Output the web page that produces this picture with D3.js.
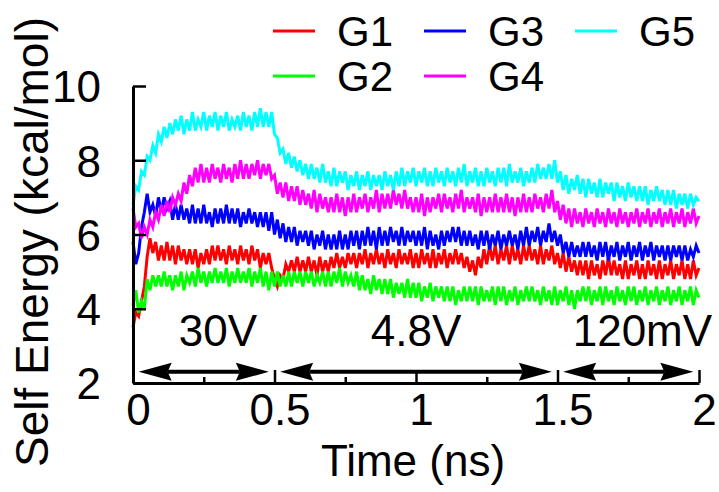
<!DOCTYPE html>
<html>
  <head>
    <title>Self Energy</title>
    <script src="https://cdnjs.cloudflare.com/ajax/libs/d3/7.8.5/d3.min.js"></script>
    <style>
      body { margin: 0; background: #fff; }
      text { font-family: "Liberation Sans", Arial, Helvetica, sans-serif; fill: #000; }
    </style>
  </head>
  <body>
    <script>
      // sampling step of the traces (ns)
      var dt = 0.01;

      var names = ["G1", "G2", "G3", "G4", "G5"];
      var colors = ["#ff0000", "#00ff00", "#0000ff", "#ff00ff", "#00ffff"];

      var g1 = [
        3.5, 3.9, 3.8, 4.2, 4.6, 5.4, 5.9, 5.5, 5.8, 5.3,
        5.7, 5.3, 5.8, 5.3, 5.7, 5.2, 5.7, 5.3, 5.6, 5.2,
        5.6, 5.2, 5.6, 5.1, 5.5, 5.2, 5.6, 5.2, 5.7, 5.3,
        5.7, 5.3, 5.6, 5.2, 5.7, 5.3, 5.6, 5.2, 5.7, 5.3,
        5.6, 5.2, 5.7, 5.3, 5.6, 5.1, 5.5, 5.2, 5.5, 5.1,
        4.8, 4.6, 4.9, 4.8, 5.2, 5.0, 5.3, 5.0, 5.4, 5.0,
        5.3, 5.0, 5.4, 5.0, 5.3, 4.9, 5.4, 5.0, 5.3, 5.0,
        5.4, 5.1, 5.5, 5.1, 5.4, 5.1, 5.5, 5.2, 5.5, 5.1,
        5.5, 5.2, 5.6, 5.1, 5.5, 5.2, 5.6, 5.2, 5.5, 5.1,
        5.6, 5.2, 5.5, 5.1, 5.6, 5.2, 5.5, 5.2, 5.6, 5.1,
        5.5, 5.1, 5.6, 5.2, 5.5, 5.1, 5.6, 5.1, 5.5, 5.2,
        5.6, 5.1, 5.5, 5.2, 5.6, 5.2, 5.5, 5.1, 5.4, 5.0,
        5.3, 4.9, 5.4, 5.1, 5.6, 5.2, 5.7, 5.3, 5.7, 5.2,
        5.6, 5.3, 5.7, 5.2, 5.7, 5.3, 5.6, 5.2, 5.7, 5.3,
        5.7, 5.3, 5.6, 5.2, 5.7, 5.2, 5.6, 5.3, 5.7, 5.2,
        5.5, 5.1, 5.5, 5.0, 5.4, 5.0, 5.3, 4.9, 5.3, 4.9,
        5.3, 4.8, 5.3, 4.9, 5.2, 4.8, 5.3, 4.9, 5.4, 4.9,
        5.3, 4.9, 5.2, 4.8, 5.3, 4.8, 5.2, 4.9, 5.3, 4.8,
        5.2, 4.8, 5.3, 4.9, 5.2, 4.8, 5.3, 4.8, 5.2, 4.9,
        5.3, 4.8, 5.2, 4.9, 5.3, 4.8, 5.2, 4.8, 5.3, 4.9,
        5.1
      ];

      var g2 = [
        4.1, 4.5, 3.9, 4.2, 4.0, 4.8, 4.5, 4.9, 4.6, 4.9,
        4.6, 5.0, 4.6, 4.9, 4.5, 4.9, 4.6, 5.0, 4.5, 4.9,
        4.7, 5.0, 4.6, 5.1, 4.7, 5.0, 4.6, 5.0, 4.7, 5.1,
        4.7, 5.0, 4.7, 5.1, 4.6, 5.0, 4.7, 5.1, 4.7, 5.0,
        4.7, 5.1, 4.6, 5.0, 4.7, 5.1, 4.6, 5.0, 4.5, 5.0,
        4.6, 5.0, 4.6, 4.9, 4.6, 5.0, 4.6, 5.0, 4.7, 5.0,
        4.6, 5.0, 4.7, 5.0, 4.6, 4.9, 4.7, 5.0, 4.6, 5.0,
        4.6, 5.0, 4.7, 5.1, 4.6, 5.0, 4.7, 4.9, 4.6, 5.0,
        4.5, 4.9, 4.5, 4.8, 4.4, 4.9, 4.5, 4.8, 4.4, 4.8,
        4.4, 4.8, 4.3, 4.7, 4.4, 4.7, 4.3, 4.8, 4.3, 4.7,
        4.3, 4.7, 4.2, 4.6, 4.3, 4.7, 4.2, 4.6, 4.3, 4.6,
        4.2, 4.6, 4.2, 4.6, 4.1, 4.5, 4.2, 4.6, 4.2, 4.6,
        4.2, 4.6, 4.1, 4.6, 4.2, 4.5, 4.2, 4.6, 4.1, 4.6,
        4.2, 4.6, 4.1, 4.5, 4.2, 4.6, 4.1, 4.5, 4.2, 4.6,
        4.2, 4.6, 4.2, 4.5, 4.1, 4.6, 4.2, 4.5, 4.1, 4.6,
        4.1, 4.5, 4.2, 4.6, 4.1, 4.5, 4.0, 4.5, 4.2, 4.6,
        4.2, 4.6, 4.1, 4.5, 4.2, 4.6, 4.1, 4.6, 4.2, 4.5,
        4.1, 4.6, 4.2, 4.5, 4.1, 4.6, 4.2, 4.6, 4.1, 4.5,
        4.2, 4.6, 4.1, 4.5, 4.2, 4.6, 4.1, 4.5, 4.2, 4.6,
        4.1, 4.5, 4.2, 4.6, 4.1, 4.5, 4.2, 4.6, 4.1, 4.5,
        4.3
      ];

      var g3 = [
        5.8, 5.2, 5.5, 6.2, 6.6, 7.1, 6.6, 6.8, 6.5, 7.0,
        6.6, 7.0, 6.7, 6.9, 6.4, 6.8, 6.4, 6.8, 6.4, 6.7,
        6.3, 6.8, 6.3, 6.7, 6.3, 6.8, 6.3, 6.6, 6.2, 6.7,
        6.3, 6.7, 6.3, 6.8, 6.3, 6.7, 6.3, 6.7, 6.2, 6.6,
        6.3, 6.7, 6.3, 6.6, 6.2, 6.6, 6.2, 6.6, 6.1, 6.6,
        6.0, 6.4, 5.9, 6.3, 5.8, 6.2, 5.8, 6.2, 5.7, 6.1,
        5.8, 6.1, 5.7, 6.1, 5.6, 6.0, 5.7, 6.1, 5.6, 6.0,
        5.6, 6.0, 5.6, 6.1, 5.6, 6.0, 5.6, 6.1, 5.7, 6.1,
        5.6, 6.1, 5.7, 6.2, 5.7, 6.1, 5.6, 6.2, 5.7, 6.1,
        5.7, 6.2, 5.8, 6.1, 5.7, 6.2, 5.7, 6.1, 5.8, 6.1,
        5.7, 6.1, 5.7, 6.2, 5.6, 6.1, 5.7, 6.0, 5.6, 6.1,
        5.7, 6.1, 5.8, 6.2, 5.8, 6.2, 5.7, 6.1, 5.7, 6.1,
        5.7, 6.0, 5.6, 6.1, 5.7, 6.1, 5.6, 6.0, 5.7, 6.1,
        5.6, 6.0, 5.7, 6.1, 5.7, 6.0, 5.6, 6.1, 5.7, 6.2,
        5.7, 6.1, 5.8, 6.2, 5.7, 6.1, 5.8, 6.3, 5.8, 6.1,
        5.7, 6.0, 5.5, 5.8, 5.4, 5.8, 5.4, 5.7, 5.4, 5.8,
        5.4, 5.8, 5.4, 5.7, 5.3, 5.8, 5.4, 5.8, 5.3, 5.7,
        5.4, 5.8, 5.3, 5.7, 5.4, 5.8, 5.3, 5.7, 5.4, 5.8,
        5.3, 5.7, 5.4, 5.8, 5.3, 5.7, 5.4, 5.7, 5.3, 5.7,
        5.3, 5.7, 5.4, 5.7, 5.3, 5.7, 5.3, 5.6, 5.4, 5.7,
        5.5
      ];

      var g4 = [
        6.7, 6.2, 6.3, 5.9, 6.2, 6.0, 6.4, 6.2, 6.6, 6.4,
        6.8, 6.5, 6.9, 6.6, 7.0, 6.8, 7.1, 6.9, 7.4, 7.1,
        7.6, 7.3, 7.8, 7.4, 7.9, 7.4, 7.8, 7.4, 7.9, 7.5,
        7.8, 7.4, 7.9, 7.5, 7.8, 7.4, 7.9, 7.5, 8.0, 7.5,
        7.9, 7.5, 7.9, 7.6, 8.0, 7.5, 7.9, 7.6, 7.9, 7.5,
        7.6, 7.1, 7.4, 7.0, 7.4, 6.9, 7.3, 6.9, 7.3, 6.8,
        7.2, 6.8, 7.1, 6.7, 7.2, 6.6, 7.1, 6.7, 7.0, 6.6,
        7.0, 6.6, 7.1, 6.6, 7.0, 6.5, 7.0, 6.6, 7.1, 6.6,
        7.0, 6.7, 7.1, 6.6, 7.0, 6.7, 7.2, 6.6, 7.1, 6.7,
        7.1, 6.7, 7.2, 6.8, 7.1, 6.7, 7.2, 6.7, 7.0, 6.6,
        7.0, 6.6, 7.1, 6.5, 7.0, 6.6, 7.0, 6.7, 7.1, 6.6,
        7.1, 6.7, 7.0, 6.6, 7.1, 6.7, 7.2, 6.6, 7.0, 6.7,
        7.0, 6.6, 7.1, 6.5, 7.0, 6.6, 7.0, 6.6, 7.1, 6.6,
        7.0, 6.6, 7.1, 6.6, 7.0, 6.5, 7.0, 6.6, 7.1, 6.6,
        7.0, 6.6, 7.1, 6.7, 7.0, 6.6, 7.1, 6.7, 7.2, 6.6,
        6.9, 6.4, 6.8, 6.3, 6.7, 6.2, 6.7, 6.3, 6.6, 6.2,
        6.7, 6.3, 6.6, 6.2, 6.7, 6.3, 6.6, 6.2, 6.7, 6.3,
        6.6, 6.2, 6.7, 6.3, 6.6, 6.2, 6.6, 6.3, 6.7, 6.2,
        6.6, 6.3, 6.7, 6.2, 6.6, 6.3, 6.7, 6.2, 6.6, 6.3,
        6.7, 6.2, 6.6, 6.3, 6.7, 6.2, 6.6, 6.3, 6.7, 6.3,
        6.5
      ];

      var g5 = [
        6.8, 7.3, 7.2, 7.7, 7.6, 8.1, 8.0, 8.4, 8.2, 8.7,
        8.5, 8.9, 8.6, 9.0, 8.7, 9.1, 8.8, 9.2, 8.7, 9.1,
        8.8, 9.3, 8.8, 9.1, 8.9, 9.3, 8.8, 9.2, 8.9, 9.3,
        8.8, 9.2, 8.9, 9.3, 8.8, 9.1, 8.9, 9.2, 8.8, 9.3,
        8.9, 9.2, 8.8, 9.3, 8.9, 9.4, 8.9, 9.3, 8.9, 9.3,
        8.7, 8.6, 8.2, 8.3, 7.9, 8.2, 7.8, 8.1, 7.7, 8.0,
        7.6, 7.9, 7.5, 7.9, 7.5, 7.8, 7.4, 7.9, 7.4, 7.7,
        7.3, 7.8, 7.3, 7.7, 7.4, 7.7, 7.2, 7.6, 7.3, 7.7,
        7.2, 7.6, 7.3, 7.7, 7.2, 7.6, 7.3, 7.6, 7.2, 7.7,
        7.3, 7.6, 7.2, 7.7, 7.3, 7.8, 7.3, 7.7, 7.4, 7.8,
        7.3, 7.7, 7.4, 7.8, 7.3, 7.7, 7.3, 7.8, 7.4, 7.7,
        7.3, 7.8, 7.4, 7.7, 7.3, 7.8, 7.4, 7.9, 7.3, 7.7,
        7.4, 7.8, 7.3, 7.7, 7.3, 7.8, 7.4, 7.7, 7.3, 7.8,
        7.4, 7.8, 7.3, 7.9, 7.4, 7.7, 7.4, 7.8, 7.3, 7.7,
        7.4, 7.8, 7.4, 7.9, 7.5, 7.8, 7.5, 7.9, 7.5, 8.0,
        7.4, 7.7, 7.2, 7.6, 7.1, 7.5, 7.2, 7.6, 7.1, 7.5,
        7.0, 7.5, 7.1, 7.4, 7.0, 7.5, 7.0, 7.4, 7.1, 7.4,
        6.9, 7.4, 7.0, 7.3, 6.9, 7.4, 7.0, 7.3, 6.9, 7.3,
        6.9, 7.3, 6.8, 7.2, 6.9, 7.3, 6.9, 7.2, 6.8, 7.2,
        6.8, 7.2, 6.7, 7.1, 6.8, 7.1, 6.7, 7.1, 6.8, 7.0,
        6.9
      ];

      var series = [g1, g2, g3, g4, g5];

      var xTicks = [0, 0.5, 1, 1.5, 2];
      var xMinorTicks = [0.25, 0.75, 1.25, 1.75];
      var yTicks = [2, 4, 6, 8, 10];

      // voltage phases: arrow spans (ns), label position (ns) and text
      var phaseStart = [0.02, 0.52, 1.52];
      var phaseEnd = [0.48, 1.48, 1.98];
      var phaseLabelX = [0.3, 1.0, 1.8];
      var phaseLabels = ["30V", "4.8V", "120mV"];

      var width = 719, height = 492;

      var svg = d3.select("body").append("svg")
                  .attr("width", width)
                  .attr("height", height);

      var x = d3.scaleLinear().domain([0, 2]).range([133, 699]);
      var y = d3.scaleLinear().domain([2, 10]).range([383, 86]);

      var line = d3.line()
                   .x(function(d, i){ return x(i * dt); })
                   .y(function(d){ return y(d); });

      svg.append("g").selectAll("path")
         .data(series)
         .enter().append("path")
         .attr("d", line)
         .attr("fill", "none")
         .attr("stroke", function(d, i){ return colors[i]; })
         .attr("stroke-width", 3)
         .attr("stroke-linejoin", "miter");

      // axes, ticks pointing inwards
      var xAxis = svg.append("g")
                     .attr("transform", "translate(0,383)")
                     .call(d3.axisBottom(x).tickValues(xTicks).tickSizeInner(-13)
                             .tickSizeOuter(0).tickPadding(0).tickFormat(d3.format("")));
      svg.append("g")
         .attr("transform", "translate(0,383)")
         .call(d3.axisBottom(x).tickValues(xMinorTicks).tickSizeInner(-6)
                 .tickSizeOuter(0).tickFormat(""))
         .select(".domain").remove();
      xAxis.selectAll("text")
           .attr("y", 42)
           .attr("dy", 0)
           .attr("dx", 5);

      var yAxis = svg.append("g")
                     .attr("transform", "translate(133,0)")
                     .call(d3.axisLeft(y).tickValues(yTicks).tickSizeInner(-13)
                             .tickSizeOuter(0).tickPadding(0));
      yAxis.selectAll("text")
           .attr("x", -32)
           .attr("dy", "0.36em");

      svg.selectAll(".domain").attr("stroke-width", 3);
      svg.selectAll(".tick line").attr("stroke-width", 2.5);
      svg.selectAll(".tick text").attr("font-size", 44).attr("font-family", null);

      svg.append("text")
         .attr("x", 413).attr("y", 476)
         .attr("text-anchor", "middle")
         .attr("font-size", 44)
         .text("Time (ns)");

      svg.append("text")
         .attr("transform", "translate(48,242) rotate(-90)")
         .attr("text-anchor", "middle")
         .attr("font-size", 46)
         .text("Self Energy (kcal/mol)");

      // phase arrows
      var arrowY = y(2.3);
      var headLen = 33, headHalf = 9;
      var arrows = svg.append("g").selectAll("g")
                      .data(phaseStart)
                      .enter().append("g");
      arrows.append("line")
            .attr("x1", function(d){ return x(d) + headLen - 4; })
            .attr("x2", function(d, i){ return x(phaseEnd[i]) - headLen + 4; })
            .attr("y1", arrowY).attr("y2", arrowY)
            .attr("stroke", "#000").attr("stroke-width", 4);
      arrows.append("path")
            .attr("d", function(d){
              var a = x(d);
              return "M" + a + "," + arrowY + "L" + (a + headLen) + "," + (arrowY - headHalf) +
                     "L" + (a + headLen - 4) + "," + arrowY + "L" + (a + headLen) + "," + (arrowY + headHalf) + "Z";
            })
            .attr("fill", "#000");
      arrows.append("path")
            .attr("d", function(d, i){
              var b = x(phaseEnd[i]);
              return "M" + b + "," + arrowY + "L" + (b - headLen) + "," + (arrowY - headHalf) +
                     "L" + (b - headLen + 4) + "," + arrowY + "L" + (b - headLen) + "," + (arrowY + headHalf) + "Z";
            })
            .attr("fill", "#000");

      svg.append("g").selectAll("text")
         .data(phaseLabels)
         .enter().append("text")
         .attr("x", function(d, i){ return x(phaseLabelX[i]); })
         .attr("y", y(3))
         .attr("text-anchor", "middle")
         .attr("font-size", 44)
         .text(function(d){ return d; });

      // legend: 3 columns, filled column by column
      var legend = svg.append("g").selectAll("g")
                      .data(names)
                      .enter().append("g")
                      .attr("transform", function(d, i){
                        return "translate(" + (273 + Math.floor(i / 2) * 151) + "," + (31 + (i % 2) * 45) + ")";
                      });
      legend.append("line")
            .attr("x1", 0).attr("x2", 42)
            .attr("stroke", function(d, i){ return colors[i]; })
            .attr("stroke-width", 3);
      legend.append("text")
            .attr("x", 64).attr("y", 15)
            .attr("font-size", 42)
            .text(function(d){ return d; });
    </script>
  </body>
</html>
